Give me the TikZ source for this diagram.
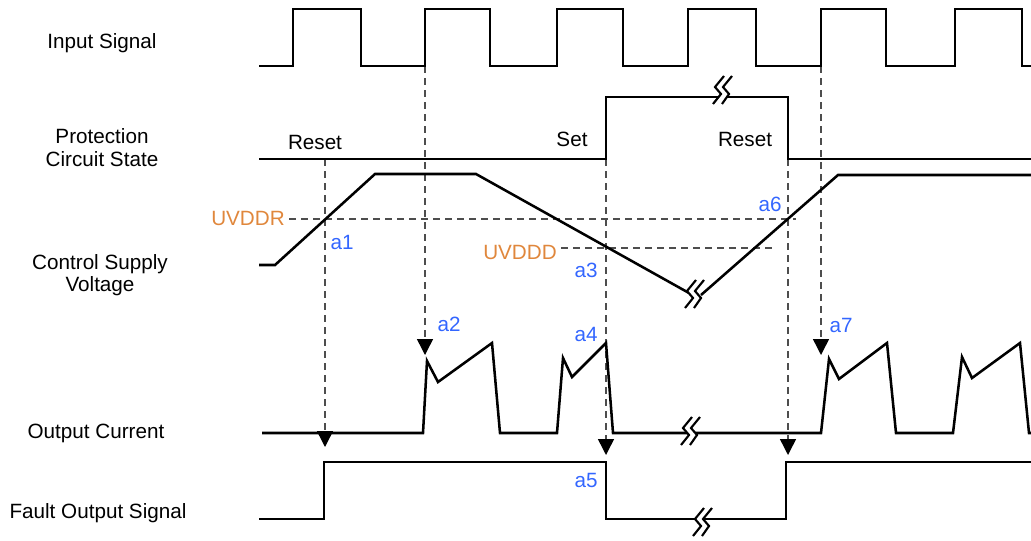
\documentclass[tikz,border=0pt]{standalone}
\usepackage{fontspec}
\setmainfont{Liberation Sans}
\usetikzlibrary{arrows.meta}
\definecolor{lblblue}{HTML}{3366FF}
\definecolor{lblorange}{HTML}{E0873C}
\definecolor{dashgray}{HTML}{4D4D4D}
\tikzset{
  pics/brkmark/.style={code={
    \fill[white] (6,-15) -- (-3,-4) -- (3,3) -- (-5,13) -- (4,13) -- (11,3) -- (5,-4) -- (14,-15) -- cycle;
    \draw[line width=1.6pt, black] (6,-15) -- (-3,-4) -- (3,3) -- (-5,13);
    \draw[line width=1.6pt, black] (14,-15) -- (5,-4) -- (11,3) -- (4,13);
  }}
}
\begin{document}
\begin{tikzpicture}[x=0.75pt,y=-0.75pt,
  wave/.style={line width=1.9pt, black, line join=miter},
  guide/.style={dashgray, line width=1.1pt, dash pattern=on 5pt off 4pt},
  guidearrow/.style={guide, -{Triangle[width=12pt,length=12pt,black]}},
  lab/.style={font=\fontsize{15.5}{17.3}\selectfont, align=center, inner sep=2pt},
  tag/.style={font=\fontsize{15.5}{17.3}\selectfont, text=lblblue, inner sep=1pt},
  thr/.style={font=\fontsize{15.5}{17.3}\selectfont, text=lblorange, inner sep=3pt}
]
\useasboundingbox (0,0) rectangle (1031,540);

% row labels
\node[lab] (in)  at (102,43)  {Input Signal};
\node[lab] (pcs) at (102,148) {Protection\\Circuit State};
\node[lab, font=\fontsize{15.5}{16}\selectfont] (csv) at (100,275) {Control Supply\\Voltage};
\node[lab] (oc)  at (96,433)  {Output Current};
\node[lab] (fo)  at (98,513)  {Fault Output Signal};

% state labels
\node[lab] (rst1) at (315,142) {Reset};
\node[lab] (setl) at (572,139) {Set};
\node[lab] (rst2) at (745,139) {Reset};

% thresholds
\node[thr] (uvddr) at (248,218) {UVDDR};
\node[thr] (uvddd) at (520,252) {UVDDD};

% event tags
\node[tag] (a1) at (342,242) {a1};
\node[tag] (a2) at (449,324) {a2};
\node[tag] (a3) at (586,270) {a3};
\node[tag] (a4) at (586,334) {a4};
\node[tag] (a5) at (586,480) {a5};
\node[tag] (a6) at (770,204) {a6};
\node[tag] (a7) at (841,325) {a7};

% guide coordinates
\coordinate (g1s) at (325,159); \coordinate (g1e) at (325,447);
\coordinate (g2s) at (425,66);  \coordinate (g2e) at (425,355);
\coordinate (g3s) at (606,159); \coordinate (g3e) at (606,455);
\coordinate (g4s) at (788,159); \coordinate (g4e) at (788,455);
\coordinate (g5s) at (821,66);  \coordinate (g5e) at (821,355);
\coordinate (rEnd) at (796,219);
\coordinate (dEnd) at (772,248);

% threshold lines
\draw[guide] (uvddr.east |- rEnd) -- (rEnd);
\draw[guide] (uvddd.east |- dEnd) -- (dEnd);

% vertical guides
\draw[guidearrow] (g1s) -- (g1e);
\draw[guidearrow] (g2s) -- (g2e);
\draw[guidearrow] (g3s) -- (g3e);
\draw[guidearrow] (g4s) -- (g4e);
\draw[guidearrow] (g5s) -- (g5e);

% input signal
\draw[wave] (259,66) -- (293,66) -- (293,9) -- (361,9) -- (361,66) -- (425,66) -- (425,9) -- (490,9) -- (490,66)
  -- (557,66) -- (557,9) -- (623,9) -- (623,66) -- (688,66) -- (688,9) -- (756,9) -- (756,66)
  -- (821,66) -- (821,9) -- (886,9) -- (886,66) -- (955,66) -- (955,9) -- (1022,9) -- (1022,66) -- (1031,66);

% protection circuit state
\draw[wave] (259,159) -- (606,159) -- (606,97) -- (788,97) -- (788,159) -- (1031,159);
\pic at (718,91) {brkmark};

% control supply voltage
\draw[wave] (259,265) -- (275,265) -- (375,174) -- (476,174) -- (689,293);
\draw[wave] (701,295) -- (838,175) -- (1031,175);
\pic at (690,295) {brkmark};

% output current
\draw[wave] (262,433) -- (423,433) -- (427,361) -- (438,382) -- (492,343) -- (500,433) -- (557,433) -- (563,358)
  -- (572,377) -- (606,343) -- (613,433) -- (821,433) -- (829,359) -- (839,379) -- (887,343) -- (896,433)
  -- (953,433) -- (962,357) -- (972,378) -- (1020,343) -- (1029,433) -- (1031,433);
\pic at (686,432) {brkmark};

% fault output signal
\draw[wave] (259,519) -- (324,519) -- (324,462) -- (606,462) -- (606,519) -- (786,519) -- (786,462) -- (1031,462);
\pic at (698,523) {brkmark};
\end{tikzpicture}
\end{document}
